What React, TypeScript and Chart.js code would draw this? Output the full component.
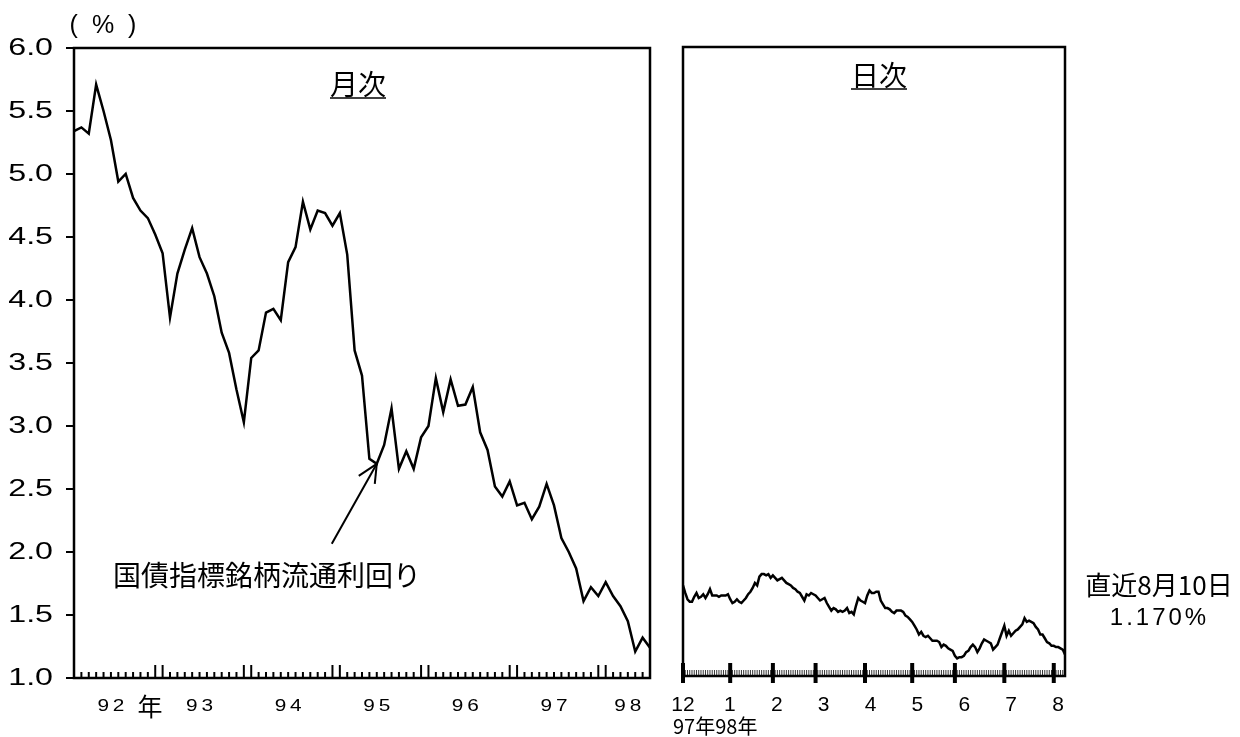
import React, { useEffect, useRef } from "react";
import { Chart, registerables } from "chart.js";

Chart.register(...registerables);

// ---------------- data ----------------
const MONTHLY_YEARS = ["92", "93", "94", "95", "96", "97", "98"];
const MONTHLY_FIRST_YEAR = 1992;

// 国債指標銘柄流通利回り, monthly, Jan 1992 - Jul 1998 (%)
const MONTHLY_YIELD = [
  5.34, 5.37, 5.32, 5.71, 5.5, 5.27, 4.94, 5.0, 4.81, 4.71, 4.65, 4.52,
  4.37, 3.86, 4.21, 4.4, 4.57, 4.34, 4.21, 4.03, 3.74, 3.58, 3.29, 3.03,
  3.54, 3.6, 3.9, 3.93, 3.84, 4.3, 4.42, 4.78, 4.56, 4.71, 4.69, 4.59,
  4.69, 4.36, 3.6, 3.4, 2.74, 2.7, 2.85, 3.14, 2.66, 2.8, 2.66, 2.91,
  3.0, 3.38, 3.11, 3.37, 3.16, 3.17, 3.31, 2.95, 2.81, 2.52, 2.44, 2.56,
  2.37, 2.39, 2.26, 2.36, 2.54, 2.37, 2.11, 2.0, 1.87, 1.61, 1.72, 1.65,
  1.76, 1.65, 1.57, 1.45, 1.21, 1.32, 1.24,
];

// daily (business days), Dec 1 1997 - Aug 10 1998 (%)
const DAILY_YIELD = [
  1.72, 1.66, 1.61, 1.59, 1.59, 1.63, 1.66, 1.62, 1.63, 1.65,
  1.62, 1.65, 1.69, 1.64, 1.64, 1.64, 1.63, 1.64, 1.64, 1.64,
  1.65, 1.61, 1.58, 1.59, 1.61, 1.59, 1.58, 1.6, 1.62, 1.65,
  1.67, 1.7, 1.74, 1.72, 1.79, 1.81, 1.81, 1.8, 1.81, 1.78,
  1.8, 1.78, 1.76, 1.77, 1.78, 1.76, 1.74, 1.73, 1.72, 1.7,
  1.69, 1.67, 1.66, 1.63, 1.6, 1.65, 1.64, 1.66, 1.65, 1.64,
  1.62, 1.6, 1.61, 1.62, 1.58, 1.55, 1.52, 1.54, 1.53, 1.51,
  1.52, 1.51, 1.52, 1.54, 1.5, 1.51, 1.49, 1.56, 1.62, 1.6,
  1.59, 1.58, 1.64, 1.68, 1.66, 1.66, 1.67, 1.67, 1.6, 1.57,
  1.54, 1.54, 1.53, 1.51, 1.5, 1.52, 1.52, 1.52, 1.51, 1.48,
  1.47, 1.45, 1.43, 1.4, 1.37, 1.33, 1.35, 1.32, 1.31, 1.32,
  1.3, 1.28, 1.28, 1.28, 1.27, 1.23, 1.25, 1.24, 1.22, 1.21,
  1.2, 1.16, 1.14, 1.15, 1.15, 1.16, 1.19, 1.2, 1.23, 1.25,
  1.23, 1.19, 1.22, 1.26, 1.29, 1.28, 1.27, 1.26, 1.21, 1.23,
  1.25, 1.3, 1.35, 1.4, 1.32, 1.36, 1.32, 1.34, 1.36, 1.37,
  1.39, 1.41, 1.46, 1.43, 1.44, 1.43, 1.42, 1.39, 1.37, 1.33,
  1.33, 1.3, 1.27, 1.26, 1.24, 1.24, 1.23, 1.23, 1.22, 1.21,
  1.17,
];
const DAILY_MONTH_START_IDX = [0, 21, 40, 59, 81, 102, 121, 143, 165];
const DAILY_MONTH_LABELS = ["12", "1", "2", "3", "4", "5", "6", "7", "8"];

const Y_TICKS = [1.0, 1.5, 2.0, 2.5, 3.0, 3.5, 4.0, 4.5, 5.0, 5.5, 6.0];
const Y_MIN = 1.0;
const Y_MAX = 6.0;

const TITLE_MONTHLY = "月次";
const TITLE_DAILY = "日次";
const SERIES_NAME = "国債指標銘柄流通利回り";
const UNIT_LABEL = "( % )";
const YEAR_SUFFIX = "年";
const DAILY_YEAR_NOTE = "97年98年";
const LATEST_DATE = "直近8月10日";
const LATEST_VALUE = "1.170%";
const ARROW_POINT_IDX = 41;

// ---------------- helpers ----------------
const NUM_FONT = "'Liberation Sans', Arial, sans-serif";
const JP_FONT = "'Noto Sans CJK JP', 'Noto Sans', sans-serif";

const MONTHLY_LABELS = MONTHLY_YIELD.map((_, i) => {
  const y = MONTHLY_FIRST_YEAR + Math.floor(i / 12);
  const m = (i % 12) + 1;
  return `${y}-${String(m).padStart(2, "0")}`;
});
const DAILY_LABELS = DAILY_YIELD.map((_, i) => String(i));

type TxtOpts = {
  size: number;
  family?: string;
  align?: "left" | "center" | "right";
  sx?: number;
  spacing?: number;
};

function txt(ctx: CanvasRenderingContext2D, s: string, x: number, y: number, o: TxtOpts) {
  ctx.save();
  ctx.font = `${o.size}px ${o.family || NUM_FONT}`;
  ctx.fillStyle = "#000";
  ctx.textBaseline = "middle";
  ctx.textAlign = "left";
  (ctx as any).letterSpacing = `${o.spacing || 0}px`;
  const sx = o.sx || 1;
  const w = ctx.measureText(s).width - (o.spacing || 0);
  const align = o.align || "center";
  const left = align === "center" ? x - (w * sx) / 2 : align === "right" ? x - w * sx : x;
  ctx.translate(left, y);
  ctx.scale(sx, 1);
  ctx.fillText(s, 0, 0);
  ctx.restore();
}

function line(ctx: CanvasRenderingContext2D, x1: number, y1: number, x2: number, y2: number, w: number, color = "#000") {
  ctx.save();
  ctx.strokeStyle = color;
  ctx.lineWidth = w;
  ctx.beginPath();
  ctx.moveTo(x1, y1);
  ctx.lineTo(x2, y2);
  ctx.stroke();
  ctx.restore();
}

function titleWithUnderline(ctx: CanvasRenderingContext2D, s: string, cx: number, cy: number) {
  ctx.save();
  ctx.font = `28px ${JP_FONT}`;
  const w = ctx.measureText(s).width;
  ctx.restore();
  txt(ctx, s, cx, cy, { size: 28, family: JP_FONT });
  line(ctx, cx - w / 2, cy + 14, cx + w / 2, cy + 14, 1.5);
}

const monthlyPlugin = {
  id: "monthlyDecor",
  afterDraw(chart: any) {
    const ctx: CanvasRenderingContext2D = chart.ctx;
    const a = chart.chartArea;
    const xs = chart.scales.x;
    const ys = chart.scales.y;
    // bottom month ticks
    for (let i = 0; i < MONTHLY_YIELD.length; i++) {
      const x = xs.getPixelForValue(i);
      const m = i % 12;
      const tall = m === 0 || m === 11;
      line(ctx, x, a.bottom, x, a.bottom - (tall ? 13 : 6), 2);
    }
    // frame
    ctx.save();
    ctx.strokeStyle = "#000";
    ctx.lineWidth = 2.5;
    ctx.strokeRect(a.left, a.top, a.right - a.left, a.bottom - a.top);
    ctx.restore();
    // y ticks + labels
    for (const v of Y_TICKS) {
      const y = ys.getPixelForValue(v);
      line(ctx, a.left - 8, y, a.left, y, 2);
      txt(ctx, v.toFixed(1), a.left - 21, y + 1, { size: 23, align: "right", sx: 1.4 });
    }
    // unit
    txt(ctx, UNIT_LABEL, a.left + 29, a.top - 22, { size: 25, spacing: 3.5 });
    // year labels
    MONTHLY_YEARS.forEach((yr, k) => {
      const first = k * 12;
      const last = Math.min(first + 11, MONTHLY_YIELD.length - 1);
      const idx = Math.floor((first + last) / 2);
      const x = xs.getPixelForValue(idx);
      txt(ctx, yr, x, a.bottom + 29, { size: 16, sx: 1.3, spacing: 3 });
      if (k === 0) txt(ctx, YEAR_SUFFIX, x + 39, a.bottom + 28, { size: 25, family: JP_FONT });
    });
    // title
    titleWithUnderline(ctx, TITLE_MONTHLY, 358, 84);
    // series annotation + arrow
    txt(ctx, SERIES_NAME, 113, 575, { size: 28, family: JP_FONT, align: "left" });
    const tx = xs.getPixelForValue(ARROW_POINT_IDX);
    const ty = ys.getPixelForValue(MONTHLY_YIELD[ARROW_POINT_IDX]);
    line(ctx, tx - 45, ty + 80, tx, ty, 2);
    line(ctx, tx, ty, tx - 18, ty + 12, 2);
    line(ctx, tx, ty, tx - 2, ty + 20, 2);
  },
};

const dailyPlugin = {
  id: "dailyDecor",
  afterDraw(chart: any) {
    const ctx: CanvasRenderingContext2D = chart.ctx;
    const a = chart.chartArea;
    const xs = chart.scales.x;
    // daily hatch
    for (let i = 0; i < DAILY_YIELD.length; i++) {
      const x = xs.getPixelForValue(i);
      line(ctx, x, a.bottom, x, a.bottom - 6, 1, "#333");
    }
    // frame
    ctx.save();
    ctx.strokeStyle = "#000";
    ctx.lineWidth = 2.5;
    ctx.strokeRect(a.left, a.top, a.right - a.left, a.bottom - a.top);
    ctx.restore();
    // month ticks
    DAILY_MONTH_START_IDX.forEach((idx) => {
      const x = xs.getPixelForValue(idx);
      line(ctx, x, a.bottom - 13, x, a.bottom + 7, 4);
    });
    // month labels: evenly spaced along the axis
    const step = (a.right - a.left - 7) / (DAILY_MONTH_LABELS.length - 1);
    DAILY_MONTH_LABELS.forEach((lab, k) => {
      txt(ctx, lab, a.left + k * step, a.bottom + 29, { size: 21 });
    });
    txt(ctx, DAILY_YEAR_NOTE, a.left - 10, a.bottom + 50, { size: 20, family: JP_FONT, align: "left" });
    // title
    titleWithUnderline(ctx, TITLE_DAILY, 219, 75);
    // latest note
    txt(ctx, LATEST_DATE, 499, 585, { size: 26, family: JP_FONT });
    txt(ctx, LATEST_VALUE, 498, 618, { size: 24, spacing: 3 });
  },
};

function baseOptions(padding: any) {
  return {
    responsive: false,
    maintainAspectRatio: false,
    animation: false as const,
    devicePixelRatio: 1,
    layout: { padding },
    plugins: { legend: { display: false }, tooltip: { enabled: false }, title: { display: false } },
    scales: {
      x: { type: "category" as const, display: false, offset: false },
      y: { type: "linear" as const, display: false, min: Y_MIN, max: Y_MAX },
    },
    elements: { point: { radius: 0 }, line: { tension: 0 } },
  };
}

export default function App() {
  const leftRef = useRef<HTMLCanvasElement>(null);
  const rightRef = useRef<HTMLCanvasElement>(null);

  useEffect(() => {
    const c1 = new Chart(leftRef.current!, {
      type: "line",
      data: {
        labels: MONTHLY_LABELS,
        datasets: [
          {
            label: SERIES_NAME,
            data: MONTHLY_YIELD,
            borderColor: "#000",
            borderWidth: 2.5,
            pointRadius: 0,
            fill: false,
          },
        ],
      },
      options: baseOptions({ left: 74, top: 48, right: 10, bottom: 59 }) as any,
      plugins: [monthlyPlugin],
    });
    const c2 = new Chart(rightRef.current!, {
      type: "line",
      data: {
        labels: DAILY_LABELS,
        datasets: [
          {
            label: SERIES_NAME,
            data: DAILY_YIELD,
            borderColor: "#000",
            borderWidth: 2.5,
            pointRadius: 0,
            fill: false,
          },
        ],
      },
      options: baseOptions({ left: 23, top: 47, right: 175, bottom: 61 }) as any,
      plugins: [dailyPlugin],
    });
    return () => {
      c1.destroy();
      c2.destroy();
    };
  }, []);

  return (
    <div style={{ position: "absolute", left: 0, top: 0, width: 1240, height: 737, background: "#fff" }}>
      <canvas ref={leftRef} width={660} height={737} style={{ position: "absolute", left: 0, top: 0 }} />
      <canvas ref={rightRef} width={580} height={737} style={{ position: "absolute", left: 660, top: 0 }} />
    </div>
  );
}
